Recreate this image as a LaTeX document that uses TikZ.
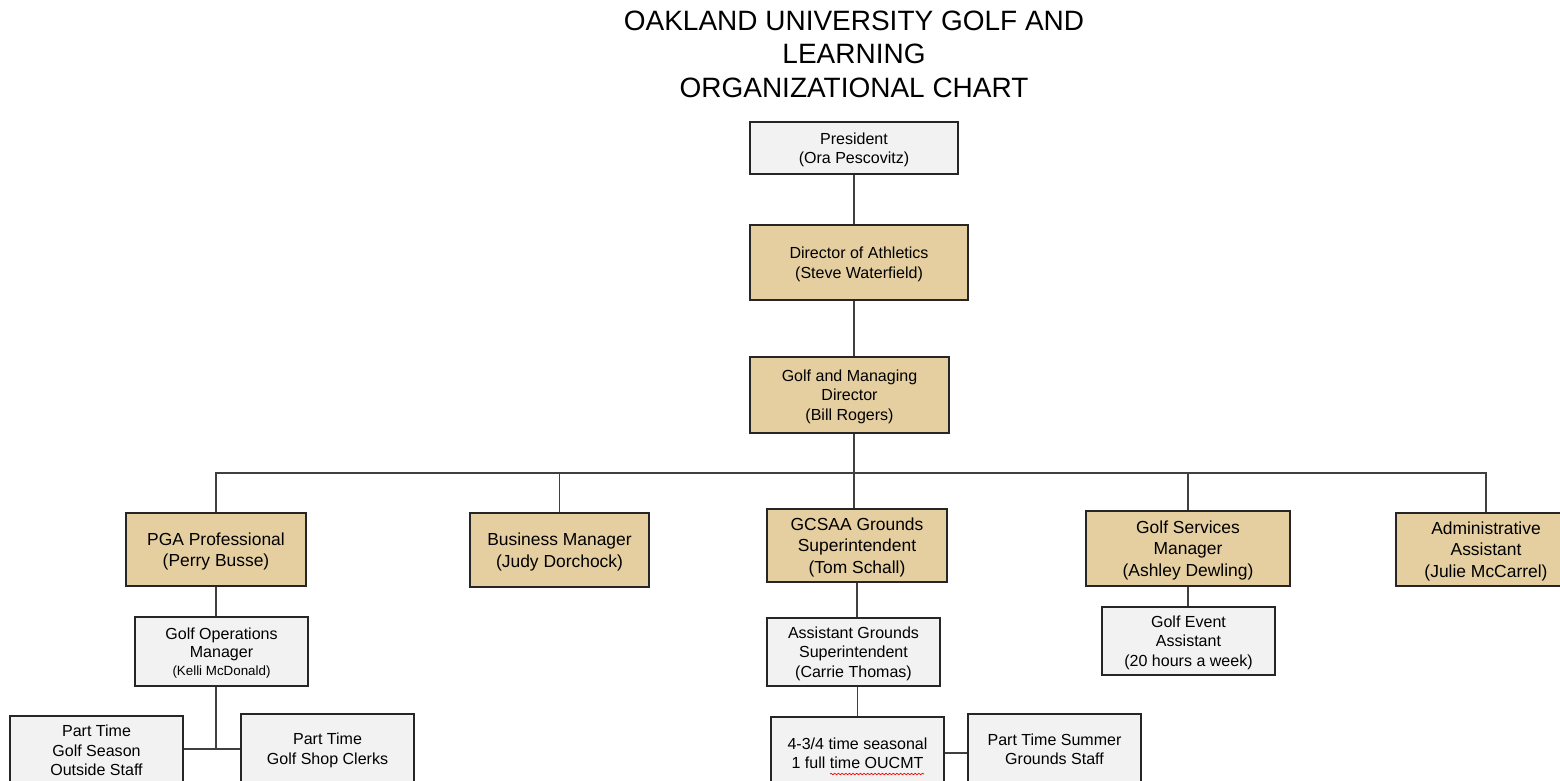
\documentclass[tikz,border=0pt]{standalone}
\usepackage{fontspec}
\setmainfont{Liberation Sans}
\usetikzlibrary{decorations.pathmorphing}
\definecolor{boxtan}{RGB}{229,207,160}
\definecolor{boxgray}{RGB}{242,242,242}
\definecolor{linegray}{RGB}{64,64,64}

\begin{document}
\begin{tikzpicture}[x=0.025cm, y=-0.025cm,
    graybox/.style={draw=black!85, line width=0.9pt, fill=boxgray, align=center, inner sep=0pt, text depth=-1.8pt, font=\fontsize{11.4}{13.8}\selectfont},
    tanbox/.style={graybox, fill=boxtan},
    midbox/.style={tanbox, font=\fontsize{12.4}{15.2}\selectfont},
    link/.style={draw=linegray, line width=0.9pt}]

  \useasboundingbox (0,0) rectangle (1560,781);
  \fill[white] (0,0) rectangle (1560,781);
  \clip (0,0) rectangle (1560,781);

  \node[align=center, font=\fontsize{19.9}{23.8}\selectfont] (title) at (854,54) {OAKLAND UNIVERSITY GOLF AND\\LEARNING\\ORGANIZATIONAL CHART};

  \node[graybox, minimum width=5.2cm, minimum height=1.3cm] (president) at (854,148) {President\\(Ora Pescovitz)};
  \node[tanbox, minimum width=5.45cm, minimum height=1.875cm] (athletics) at (859,262.5) {Director of Athletics\\(Steve Waterfield)};
  \node[tanbox, minimum width=4.975cm, minimum height=1.9cm] (managing) at (849.5,395) {Golf and Managing\\Director\\(Bill Rogers)};

  \node[midbox, minimum width=4.5cm, minimum height=1.825cm] (pga) at (216,549.5) {PGA Professional\\(Perry Busse)};
  \node[midbox, minimum width=4.475cm, minimum height=1.85cm] (business) at (559.5,550) {Business Manager\\(Judy Dorchock)};
  \node[midbox, minimum width=4.5cm, minimum height=1.825cm] (gcsaa) at (857,545.5) {GCSAA Grounds\\Superintendent\\(Tom Schall)};
  \node[midbox, minimum width=5.1cm, minimum height=1.875cm] (services) at (1188,548.5) {Golf Services\\Manager\\(Ashley Dewling)};
  \node[midbox, minimum width=4.5cm, minimum height=1.825cm] (admin) at (1486,549.5) {Administrative\\Assistant\\(Julie McCarrel)};

  \node[graybox, minimum width=4.325cm, minimum height=1.725cm, font=\fontsize{11.4}{12.8}\selectfont] (opsmgr) at (221.5,651.5) {Golf Operations\\Manager\\{\fontsize{9.5}{11}\selectfont(Kelli McDonald)}};
  \node[graybox, minimum width=4.325cm, minimum height=1.7cm] (assistgrounds) at (853.5,652) {Assistant Grounds\\Superintendent\\(Carrie Thomas)};
  \node[graybox, minimum width=4.325cm, minimum height=1.7cm] (eventasst) at (1188.5,641) {Golf Event\\Assistant\\(20 hours a week)};

  \node[graybox, minimum width=4.325cm, minimum height=1.725cm] (seasonstaff) at (96.5,750.5) {Part Time\\Golf Season\\Outside Staff};
  \node[graybox, minimum width=4.325cm, minimum height=1.725cm] (shopclerks) at (327.5,748.5) {Part Time\\Golf Shop Clerks};
  \node[graybox, minimum width=4.325cm, minimum height=1.8cm] (seasonal) at (857.5,753) {4-3/4 time seasonal\\1 full time OUCMT};
  \node[graybox, minimum width=4.325cm, minimum height=1.75cm] (summerstaff) at (1054.5,749) {Part Time Summer\\Grounds Staff};

  \coordinate (bus) at (0,473);
  \coordinate (opsjoin) at (216,749);

  \draw[link] (president.south) -- (president.south |- athletics.north);
  \draw[link] (athletics.south -| president.south) -- (managing.north -| president.south);
  \draw[link] (managing.south -| president.south) -- (gcsaa.north -| president.south);
  \draw[link] (pga.north) |- (admin.north |- bus) -- (admin.north);
  \draw[link] (business.north) -- (business.north |- bus);
  \draw[link] (services.north) -- (services.north |- bus);

  \draw[link] (pga.south) -- (pga.south |- opsmgr.north);
  \draw[link] (opsmgr.south -| pga.south) -- (opsjoin);
  \draw[link] (seasonstaff.east |- opsjoin) -- (shopclerks.west |- opsjoin);

  \draw[link] (gcsaa.south) -- (gcsaa.south |- assistgrounds.north);
  \draw[link] (seasonal.north) -- (seasonal.north |- assistgrounds.south);
  \draw[link] (seasonal.east) -- (seasonal.east -| summerstaff.west);

  \draw[link] (services.south) -- (services.south |- eventasst.north);

  \draw[red, line width=0.5pt, decorate, decoration={snake, amplitude=0.5pt, segment length=2.6pt}] (830,774) -- (924,774);

\end{tikzpicture}
\end{document}
